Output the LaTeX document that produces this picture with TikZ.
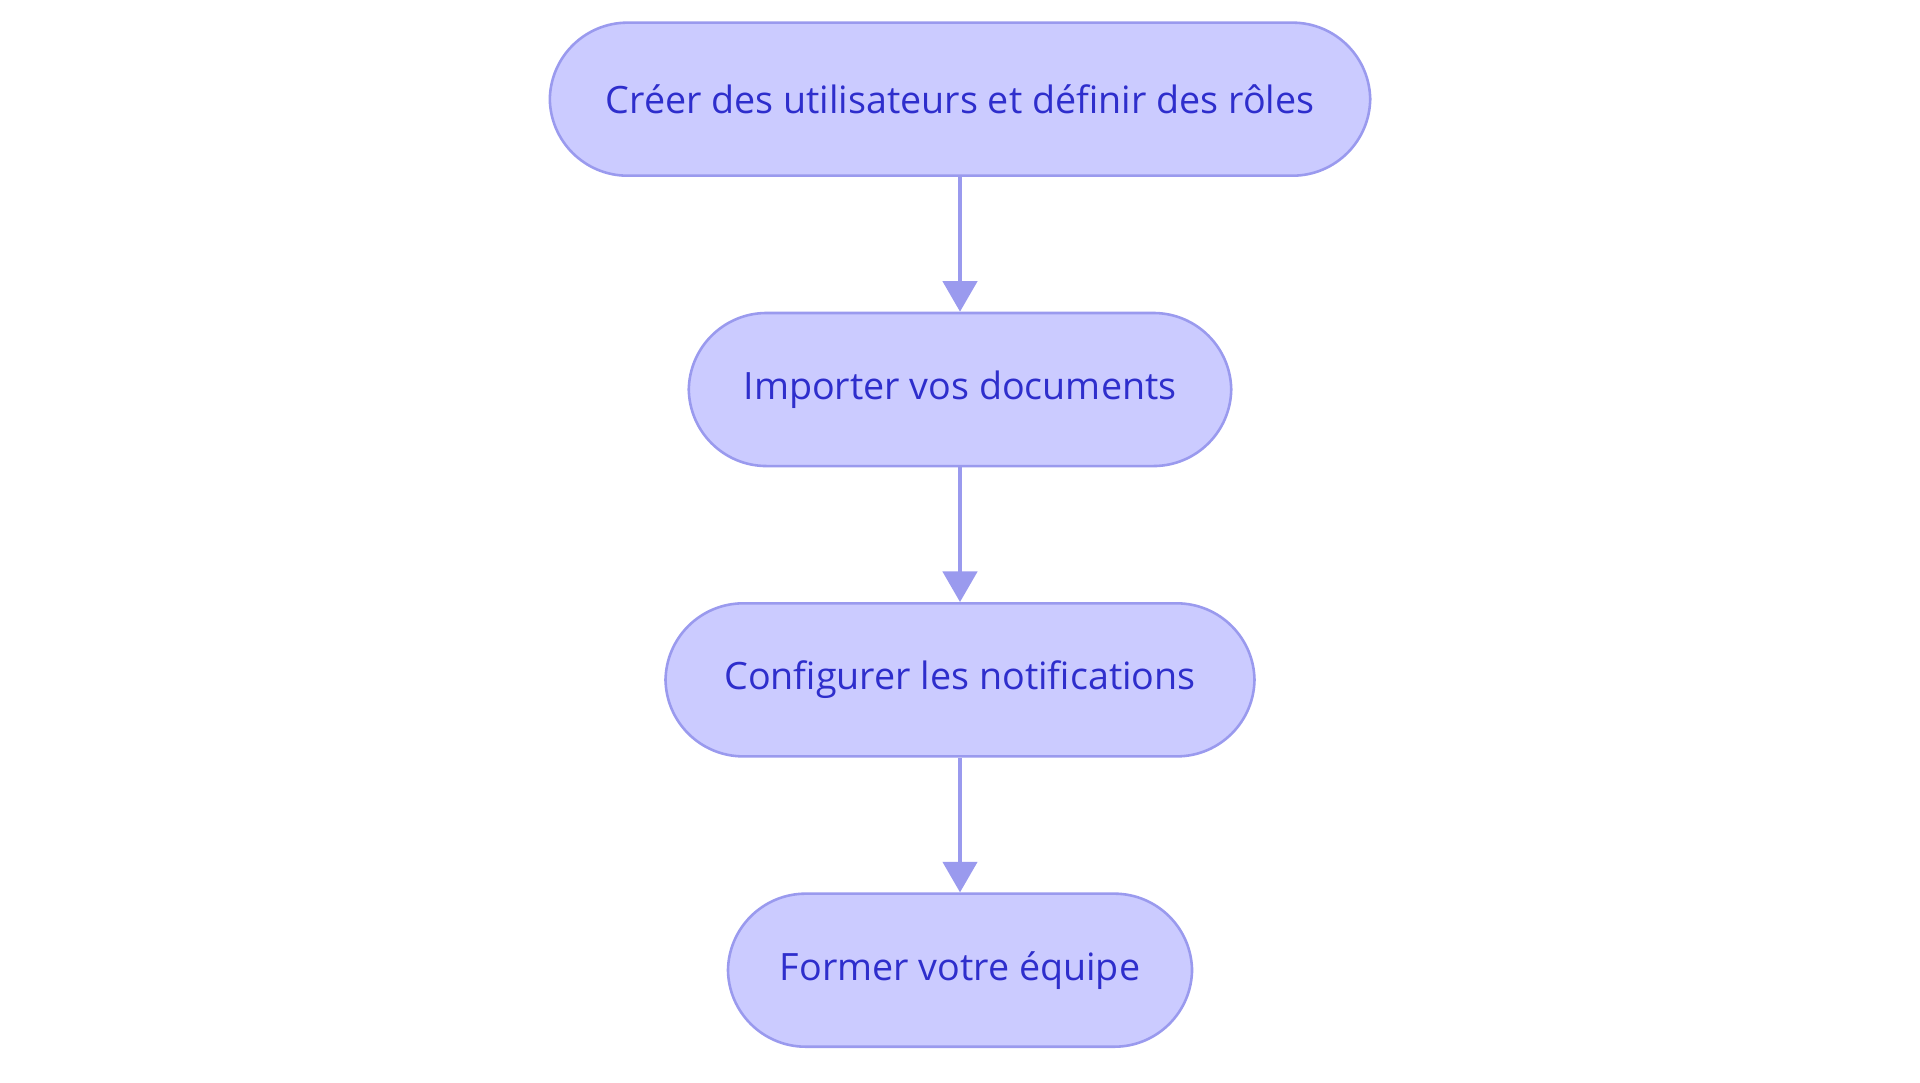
\documentclass[tikz,border=0pt]{standalone}
\usepackage{fontspec}
\setmainfont{Open Sans}
\usetikzlibrary{positioning,arrows.meta}
\definecolor{stepfill}{HTML}{CBCBFF}
\definecolor{stepline}{HTML}{9A9AEE}
\definecolor{steptext}{HTML}{2E2ECC}
\tikzset{
  stepbox/.style={draw=stepline, line width=1.2pt, fill=stepfill, rounded corners=1.27cm,
    minimum height=2.5cm, text=steptext, font=\fontsize{17.5}{21}\selectfont},
  flow/.style={draw=stepline, line width=1.8pt, -{Triangle[length=0.5cm,width=0.56cm]}}
}
\begin{document}
\begin{tikzpicture}
\useasboundingbox (0,0) rectangle (31.36,-17.68);
\node[stepbox, minimum width=13.4cm] (users) at (15.68,-1.62) {Créer des utilisateurs et définir des rôles};
\node[stepbox, minimum width=8.86cm, below=2.2cm of users] (docs) {Importer vos documents};
\node[stepbox, minimum width=9.62cm, below=2.2cm of docs] (notif) {Configurer les notifications};
\node[stepbox, minimum width=7.58cm, below=2.2cm of notif] (team) {Former votre équipe};
% arrows
\draw[flow] (users) -- (docs);
\draw[flow] (docs) -- (notif);
\draw[flow] (notif) -- (team);
\end{tikzpicture}
\end{document}
